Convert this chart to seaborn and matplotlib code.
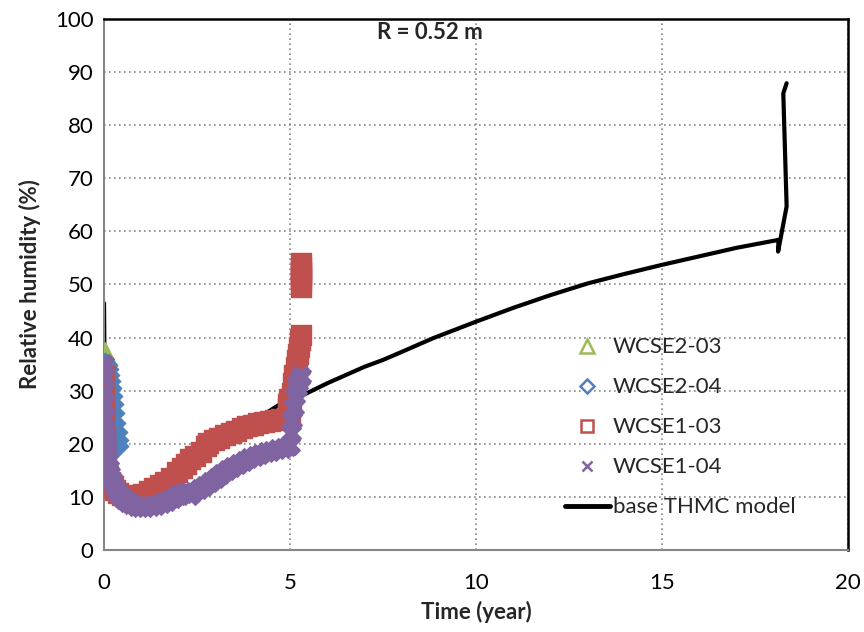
import pandas as pd
import seaborn as sns
import matplotlib.pyplot as plt
from matplotlib.lines import Line2D

# WCSE2-03 sensor (only a short record near t = 0)
t_wcse2_03 = [0.0, 0.0, 0.01, 0.02, 0.03, 0.04, 0.05, 0.06, 0.08, 0.1]
rh_wcse2_03 = [33, 35, 36.5, 37.3, 37, 36.2, 35.5, 34.8, 34, 33.2]

# WCSE2-04 sensor
t_wcse2_04 = [0.0, 0.02, 0.04, 0.07, 0.1, 0.13, 0.16, 0.19, 0.22, 0.25, 0.28, 0.31, 0.34, 0.36]
rh_wcse2_04 = [33, 35, 34.8, 34, 33, 31.8, 30.5, 29, 27.5, 25.8, 24, 22.3, 20.7, 19.5]

# WCSE1-03 sensor
t_wcse1_03 = [0.0, 0.0, 0.01, 0.01, 0.01, 0.02, 0.02, 0.03, 0.05, 0.08, 0.12, 0.17, 0.23, 0.3,
              0.38, 0.47, 0.57, 0.68, 0.8, 0.92, 1.05, 1.2, 1.35, 1.5, 1.65, 1.8, 1.95, 2.1,
              2.2, 2.3, 2.45, 2.6, 2.75, 2.8, 2.95, 3.1, 3.25, 3.4, 3.55, 3.7, 3.85, 4.0,
              4.15, 4.3, 4.45, 4.6, 4.75, 4.9, 4.95, 4.95, 4.97, 5.0, 5.03, 5.06, 5.09, 5.12,
              5.15, 5.18, 5.21, 5.24, 5.27, 5.3,
              5.3, 5.3, 5.3, 5.3, 5.3, 5.3]
rh_wcse1_03 = [33, 30.5, 28, 25.5, 23, 21, 19, 17.5, 16, 14.8, 13.7, 12.8, 12, 11.3,
               10.8, 10.4, 10.1, 10, 10, 10.2, 10.6, 11.1, 11.6, 12.2, 12.8, 13.6, 14.6, 15.5,
               16.2, 17.2, 17.7, 18.4, 19.6, 20.2, 20.7, 21.1, 21.6, 22, 22.5, 22.9, 23.3, 23.6,
               23.9, 24.1, 24.3, 24.5, 24.6, 24.7, 26.5, 27.5, 28.5, 25, 27.5, 29.5, 31.5, 33,
               34.5, 35.8, 37, 38.3, 39.5, 40.5,
               54, 53.2, 52.4, 51.6, 50.6, 49.6]

# WCSE1-04 sensor
t_wcse1_04 = [0.0, 0.0, 0.01, 0.01, 0.02, 0.03, 0.04, 0.05, 0.07, 0.1, 0.13, 0.17, 0.22, 0.28,
              0.35, 0.43, 0.52, 0.62, 0.73, 0.85, 0.97, 1.1, 1.25, 1.4, 1.55, 1.7, 1.85, 2.0,
              2.15, 2.25, 2.3, 2.4, 2.55, 2.7, 2.85, 3.0, 3.15, 3.3, 3.45, 3.6, 3.75, 3.9,
              4.05, 4.2, 4.35, 4.5, 4.65, 4.8, 4.95, 5.0, 5.03, 5.06, 5.1, 5.14, 5.18, 5.22,
              5.26, 5.3]
rh_wcse1_04 = [35, 32.5, 30, 27.5, 25, 23, 21.5, 20, 18.5, 16.8, 15.5, 14.3, 13.2, 12.1,
               11.2, 10.4, 9.7, 9.1, 8.6, 8.3, 8.1, 8.1, 8.2, 8.5, 8.9, 9.3, 9.8, 10.3,
               10.7, 10.9, 10.3, 10.9, 11.5, 12.1, 12.8, 13.6, 14.3, 15, 15.6, 16.2, 16.8, 17.3,
               17.7, 18.1, 18.4, 18.7, 19, 19.2, 19.5, 19.8, 22, 24.5, 27, 29, 30.5, 31.5,
               32.3, 32.8]

# base THMC model
t_model = [0.0, 0.01, 0.02, 0.05, 0.1, 0.2, 0.4, 0.7, 1.0, 1.5, 2.0, 2.5, 3.0, 3.5, 4.2,
           4.9, 5.3, 6.0, 7.0, 7.5, 8.0, 8.85, 10.0, 11.0, 12.0, 13.0, 14.0, 15.0, 16.0,
           17.0, 18.13, 18.12, 18.35, 18.26, 18.35]
rh_model = [46.5, 38, 33, 25, 19, 14.5, 11.5, 10.3, 10.2, 11.5, 13.5, 15.8, 18.7, 21.5, 25.1,
            28.2, 29, 31.4, 34.5, 35.8, 37.3, 39.9, 43, 45.6, 48, 50.2, 52, 53.7, 55.3,
            56.9, 58.4, 56.2, 64.7, 86, 87.9]

green = '#9BBB59'
blue = '#4F81BD'
red = '#C0504D'
purple = '#8064A2'
gray = '#868686'

model = pd.DataFrame({'t': t_model, 'rh': rh_model})

sns.set_style('white')
plt.rcParams['font.family'] = ['Lato', 'DejaVu Sans']

fig = plt.figure(figsize=(8.64, 6.32), dpi=100)
ax = fig.add_axes([0.1204, 0.1297, 0.8611, 0.8403])

sns.lineplot(data=model, x='t', y='rh', sort=False, estimator=None, color='black',
             linewidth=3.0, ax=ax, zorder=2)
sns.scatterplot(x=t_wcse2_03, y=rh_wcse2_03, marker='^', s=200, color=green,
                edgecolor=green, linewidth=1, ax=ax, zorder=3)
sns.scatterplot(x=t_wcse2_04, y=rh_wcse2_04, marker='D', s=130, color=blue,
                edgecolor=blue, linewidth=1, ax=ax, zorder=4)
sns.scatterplot(x=t_wcse1_03, y=rh_wcse1_03, marker='s', s=190, color=red,
                edgecolor=red, linewidth=1, ax=ax, zorder=5)
sns.scatterplot(x=t_wcse1_04, y=rh_wcse1_04, marker='X', s=200, color=purple,
                edgecolor=purple, linewidth=1, ax=ax, zorder=6)

ax.set_xlim(0, 20)
ax.set_ylim(0, 100)
ax.set_xticks(range(0, 21, 5))
ax.set_yticks(range(0, 101, 10))
ax.grid(True, linestyle=(0, (1, 2)), color=gray, linewidth=1.2)
ax.set_axisbelow(True)
ax.tick_params(direction='inout', length=7, width=1.2, color=gray, labelsize=16,
               labelcolor='black', pad=4)
ax.tick_params(axis='x', pad=13)
for side in ['left', 'bottom']:
    ax.spines[side].set_color(gray)
    ax.spines[side].set_linewidth(1.5)
for side in ['top', 'right']:
    ax.spines[side].set_color('black')
    ax.spines[side].set_linewidth(1.8)

ax.set_xlabel('Time (year)', fontsize=16, fontweight='bold', labelpad=6)
ax.set_ylabel('Relative humidity (%)', fontsize=16, fontweight='bold', labelpad=10)
ax.text(0.438, 0.995, 'R = 0.52 m', transform=ax.transAxes, ha='center', va='top',
        fontsize=16, fontweight='bold')

handles = [
    Line2D([], [], linestyle='none', marker='^', markersize=10, markerfacecolor='none',
           markeredgecolor=green, markeredgewidth=1.8),
    Line2D([], [], linestyle='none', marker='D', markersize=7, markerfacecolor='none',
           markeredgecolor=blue, markeredgewidth=1.8),
    Line2D([], [], linestyle='none', marker='s', markersize=8, markerfacecolor='none',
           markeredgecolor=red, markeredgewidth=1.8),
    Line2D([], [], linestyle='none', marker='x', markersize=7, markeredgecolor=purple,
           markeredgewidth=1.8),
    Line2D([], [], color='black', linewidth=3.5),
]
labels = ['WCSE2-03', 'WCSE2-04', 'WCSE1-03', 'WCSE1-04', 'base THMC model']
ax.legend(handles, labels, loc='lower left', bbox_to_anchor=(0.593, 0.024), frameon=False,
          fontsize=16, handlelength=2.0, handletextpad=0.15, labelspacing=0.9)

plt.savefig('out.png', dpi=100)
